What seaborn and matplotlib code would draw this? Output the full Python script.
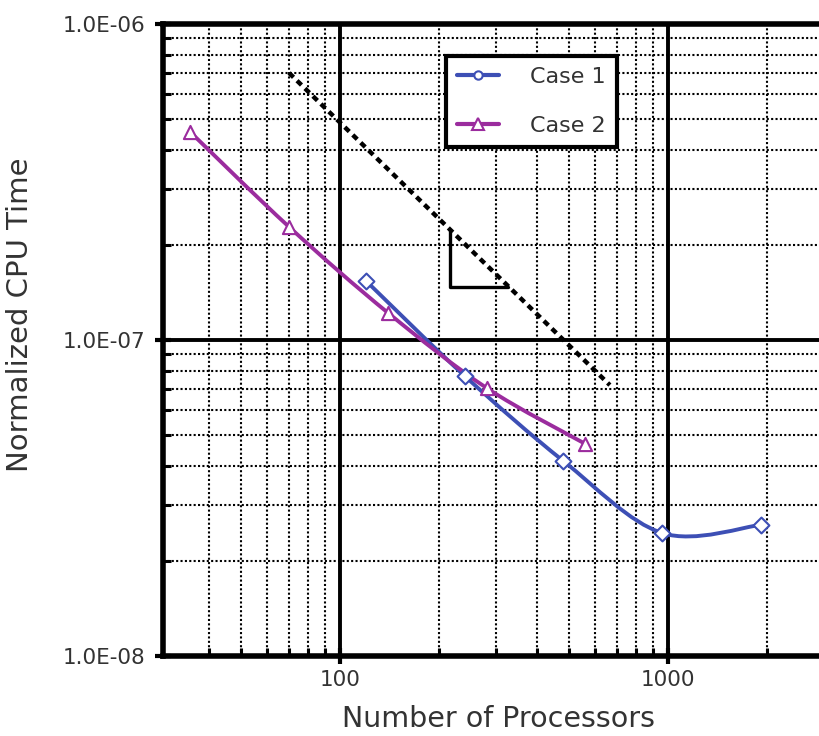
import numpy as np
import matplotlib
matplotlib.use("Agg")
import matplotlib.pyplot as plt
import seaborn as sns
from matplotlib.path import Path
from matplotlib.patches import PathPatch
from matplotlib.lines import Line2D
from matplotlib.ticker import FixedLocator, FuncFormatter, NullFormatter

# Strong-scaling timings
case1_procs = [120, 240, 480, 960, 1920]
case1_time = [1.54e-7, 7.7e-8, 4.14e-8, 2.45e-8, 2.6e-8]
case2_procs = [35, 70, 140, 280, 560]
case2_time = [4.55e-7, 2.28e-7, 1.22e-7, 7.05e-8, 4.69e-8]

# Ideal scaling reference line and slope triangle
ideal_procs = [70, 665]
ideal_time = [7.0e-7, 7.2e-8]
tri_procs = [216, 216, 325]
tri_time = [2.23e-7, 1.47e-7, 1.47e-7]

series_names = ["Case 1", "Case 2"]
x_tick_values = [100, 1000]
y_tick_values = [1e-8, 1e-7, 1e-6]

BLUE = "#3d4fb5"
MAGENTA = "#9b2c9e"
TEXT = "#333333"

sns.set_style("white")
plt.rcParams["font.family"] = ["DejaVu Sans"]
plt.rcParams["xtick.labelsize"] = 15.5
plt.rcParams["ytick.labelsize"] = 15.5

fig = plt.figure(figsize=(8.2, 7.36), dpi=100)
ax = fig.add_axes([163 / 820, 80 / 736, 1 - 163 / 820, 632 / 736])
ax.set_xscale("log")
ax.set_yscale("log")
ax.set_xlim(28.9, 2906)
ax.set_ylim(1e-8, 1e-6)


def smooth_path(xs, ys):
    """Catmull-Rom style smoothing in log-log space, returned as a Bezier path."""
    lx = np.log10(xs)
    ly = np.log10(ys)
    n = len(lx)
    verts = [(xs[0], ys[0])]
    codes = [Path.MOVETO]
    for i in range(n - 1):
        p0 = i - 1 if i > 0 else i
        p3 = i + 2 if i + 2 < n else i + 1
        c1x = lx[i] + (lx[i + 1] - lx[p0]) / 6
        c1y = ly[i] + (ly[i + 1] - ly[p0]) / 6
        c2x = lx[i + 1] - (lx[p3] - lx[i]) / 6
        c2y = ly[i + 1] - (ly[p3] - ly[i]) / 6
        verts += [(10 ** c1x, 10 ** c1y), (10 ** c2x, 10 ** c2y), (xs[i + 1], ys[i + 1])]
        codes += [Path.CURVE4] * 3
    return Path(verts, codes)


for xs, ys, col in [(case1_procs, case1_time, BLUE), (case2_procs, case2_time, MAGENTA)]:
    patch = PathPatch(smooth_path(xs, ys), facecolor="none", edgecolor=col,
                      lw=2.8, transform=ax.transData, zorder=4, capstyle="round")
    ax.add_patch(patch)

sns.scatterplot(x=case1_procs, y=case1_time, marker="D", s=65, facecolor="white",
                edgecolor=BLUE, linewidth=1.5, ax=ax, zorder=5, legend=False)
sns.scatterplot(x=case2_procs, y=case2_time, marker="^", s=90, facecolor="white",
                edgecolor=MAGENTA, linewidth=1.5, ax=ax, zorder=5, legend=False)

# Ideal slope (-1) line with triangle
ax.plot(ideal_procs, ideal_time, color="black", lw=3.2, ls=(0, (1.4, 1.1)), zorder=3)
ax.plot(tri_procs, tri_time, color="black", lw=2.4, zorder=3)

# Ticks and grid
ax.xaxis.set_major_locator(FixedLocator(x_tick_values))
ax.xaxis.set_minor_locator(FixedLocator([40, 50, 60, 70, 80, 90,
                                         200, 300, 400, 500, 600, 700, 800, 900, 2000]))
ax.xaxis.set_major_formatter(FuncFormatter(lambda v, p: f"{v:.0f}"))
ax.xaxis.set_minor_formatter(NullFormatter())
ax.yaxis.set_major_locator(FixedLocator(y_tick_values))
ax.yaxis.set_minor_locator(FixedLocator([m * d for d in (1e-8, 1e-7) for m in range(2, 10)]))
ax.yaxis.set_major_formatter(FuncFormatter(lambda v, p: f"{v:.1E}"))
ax.yaxis.set_minor_formatter(NullFormatter())

ax.grid(which="major", color="black", lw=2.8, ls="-")
ax.grid(which="minor", color="black", lw=1.5, ls=(0, (1, 1.1)))
ax.set_axisbelow(True)

ax.tick_params(which="major", direction="inout", length=12, width=3, color="black",
               labelsize=15.5, labelcolor=TEXT, left=True, bottom=True)
ax.tick_params(axis="y", which="major", pad=7)
ax.tick_params(axis="x", which="major", pad=4)
ax.tick_params(which="minor", direction="in", length=6, width=2.2, color="black",
               left=True, bottom=True)

for side in ["left", "bottom", "top"]:
    ax.spines[side].set_visible(True)
    ax.spines[side].set_linewidth(4)
    ax.spines[side].set_color("black")
ax.spines["right"].set_visible(False)

ax.set_xlabel("Number of Processors", fontsize=20.5, color=TEXT)
ax.xaxis.set_label_coords(0.51, -0.077)
ax.set_ylabel("Normalized CPU Time", fontsize=21, color=TEXT)
ax.yaxis.set_label_coords(-0.197, 0.54)

handles = [
    Line2D([], [], color=BLUE, lw=3, marker="o", markersize=6,
           markerfacecolor="white", markeredgecolor=BLUE, markeredgewidth=1.5),
    Line2D([], [], color=MAGENTA, lw=3, marker="^", markersize=8,
           markerfacecolor="white", markeredgecolor=MAGENTA, markeredgewidth=1.5),
]
leg = ax.legend(handles, series_names, loc="upper left",
                bbox_to_anchor=(446 / 820, 1 - 56 / 736), bbox_transform=fig.transFigure,
                fontsize=16, frameon=True, fancybox=False, framealpha=1,
                edgecolor="black", handlelength=1.9, handletextpad=1.4,
                labelspacing=1.3, borderpad=0.5, borderaxespad=0)
leg.get_frame().set_linewidth(3)
for t in leg.get_texts():
    t.set_color(TEXT)

fig.savefig("out.png", dpi=100, facecolor="white")
